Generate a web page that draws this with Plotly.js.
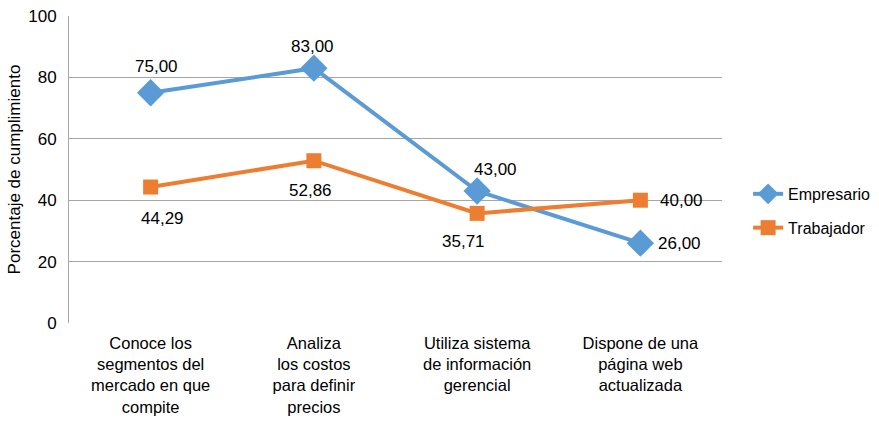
<!DOCTYPE html>
<html><head><meta charset="utf-8">
<script src="https://cdn.plot.ly/plotly-3.0.1.min.js"></script>
<style>body{margin:0;background:#fff}#c{width:879px;height:421px}</style>
</head><body><div id="c"></div>
<script>
const categories = [
  "Conoce los<br>segmentos del<br>mercado en que<br>compite",
  "Analiza<br>los costos<br>para definir<br>precios",
  "Utiliza sistema<br>de información<br>gerencial",
  "Dispone de una<br>página web<br>actualizada"
];
const empresario = [75.00, 83.00, 43.00, 26.00];
const trabajador = [44.29, 52.86, 35.71, 40.00];
const seriesNames = ["Empresario", "Trabajador"];
const yTicks = [0, 20, 40, 60, 80, 100];

const font = "Liberation Sans, Arial, sans-serif";
const traces = [
  {
    x: categories, y: empresario, name: seriesNames[0], type: "scatter",
    mode: "lines+markers", legendgroup: "a",
    line: {color: "#5B9BD5", width: 4},
    marker: {symbol: "diamond", size: 21, color: "#5B9BD5"},
    cliponaxis: false
  },
  {
    x: categories, y: trabajador, name: seriesNames[1], type: "scatter",
    mode: "lines+markers", legendgroup: "b",
    line: {color: "#ED7D31", width: 4},
    marker: {symbol: "square", size: 15, color: "#ED7D31"},
    cliponaxis: false
  }
];
// label placement (pixels) per point
const empShift = [[6, 26], [-1, 22], [18, 21], [39, 0]];
const trabShift = [[12, -31], [-3, -30], [-14, -28], [41, 0]];
const fmt = v => v.toFixed(2).replace(".", ",");
const annotations = [];
empresario.forEach((v, i) => annotations.push({
  x: categories[i], y: v, text: fmt(v), showarrow: false,
  xshift: empShift[i][0], yshift: empShift[i][1],
  font: {family: font, size: 17, color: "#000"}
}));
trabajador.forEach((v, i) => annotations.push({
  x: categories[i], y: v, text: fmt(v), showarrow: false,
  xshift: trabShift[i][0], yshift: trabShift[i][1],
  font: {family: font, size: 17, color: "#000"}
}));
const layout = {
  width: 879, height: 421,
  margin: {l: 69, r: 157, t: 16, b: 98, autoexpand: false},
  separators: ",.",
  paper_bgcolor: "#fff", plot_bgcolor: "#fff",
  font: {family: font, color: "#000"},
  annotations: annotations,
  xaxis: {
    type: "category", range: [-0.5, 3.5], showgrid: false, zeroline: false, showline: false,
    tickfont: {family: font, size: 16.5, color: "#000"}, ticks: "", ticklabelstandoff: 8,
    fixedrange: true
  },
  yaxis: {
    range: [0, 100], tickvals: yTicks, showgrid: true, gridcolor: "#A6A6A6", gridwidth: 1,
    showline: true, linecolor: "#A6A6A6", linewidth: 1, zeroline: false,
    tickfont: {family: font, size: 17, color: "#000"}, ticks: "", ticklabelstandoff: 8,
    title: {text: "Porcentaje de cumplimiento", font: {family: font, size: 17, color: "#000"}, standoff: 3}
  },
  legend: {
    x: 1.04, y: 0.365, xanchor: "left", yanchor: "middle",
    font: {family: font, size: 16, color: "#000"}, itemwidth: 30,
    tracegroupgap: 10
  },
  showlegend: true
};
Plotly.newPlot("c", traces, layout, {displayModeBar: false, staticPlot: true});
</script></body></html>
